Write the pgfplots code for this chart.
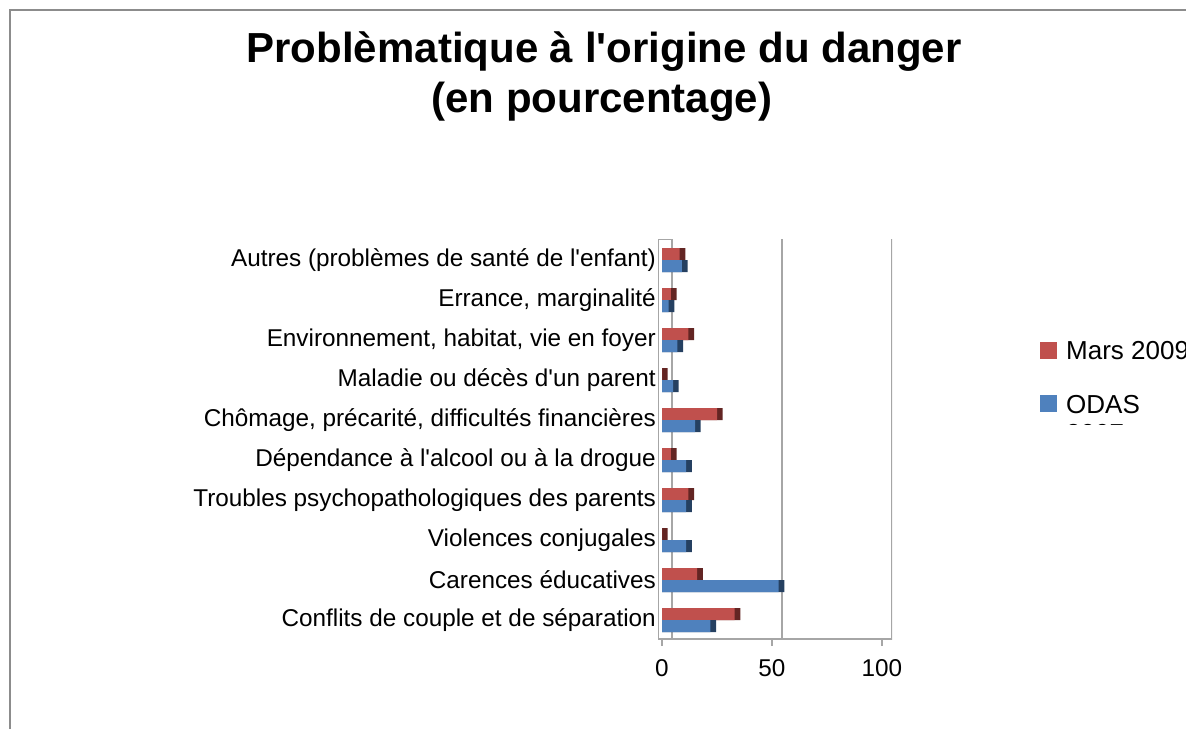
\documentclass[border=0pt]{standalone}
\usepackage{pgfplots}
\pgfplotsset{compat=1.18}
\usepackage{fontspec}
\setmainfont{Liberation Sans}
\definecolor{redA}{HTML}{C0504D}
\definecolor{redD}{HTML}{632523}
\definecolor{blueA}{HTML}{4F81BD}
\definecolor{blueD}{HTML}{254061}
\definecolor{gridc}{HTML}{A6A6A6}
\definecolor{framec}{HTML}{8C8C8C}
\newcommand\q{\textquotesingle}
\begin{document}
\begin{tikzpicture}[x=1pt,y=1pt]
\path[use as bounding box] (0,0) rectangle (1186,729);
\begin{scope}
\clip (0,0) -- (1000,0) -- (1000,304) -- (1186,304) -- (1186,729) -- (0,729) -- cycle;
\draw[framec, line width=1.5pt] (10,0) -- (10,719) -- (1186,719);
\node[font=\fontsize{42}{48}\selectfont\bfseries, anchor=base] at (604,666) {Problèmatique à l\q origine du danger};
\node[font=\fontsize{42}{48}\selectfont\bfseries, anchor=base] at (602,616) {(en pourcentage)};
\begin{axis}[
  at={(658pt,90pt)}, anchor=south west,
  scale only axis, width=234pt, height=400pt,
  xmin=-1.82, xmax=104.55, ymin=-0.475, ymax=9.525,
  xbar, bar width=12pt,
  axis line style={draw=none},
  ytick={0,1,2,3,4,5,6,7,8,9},
  yticklabels={
    Conflits de couple et de séparation,
    Carences éducatives,
    Violences conjugales,
    Troubles psychopathologiques des parents,
    Dépendance à l\q alcool ou à la drogue,
    {Chômage, précarité, difficultés financières},
    Maladie ou décès d\q un parent,
    {Environnement, habitat, vie en foyer},
    {Errance, marginalité},
    Autres (problèmes de santé de l\q enfant)},
  y tick label style={font=\fontsize{24.3}{28}\selectfont, inner sep=0pt, xshift=5pt},
  ytick style={draw=none},
  xtick={0,50,100},
  xtick pos=bottom, tick align=outside, major tick length=7pt,
  xtick style={gridc, line width=1.5pt},
  x tick label style={font=\fontsize{24.3}{28}\selectfont, yshift=-10pt},
  /pgf/number format/assume math mode=true,
  extra x ticks={4.55,54.55}, extra x tick labels={},
  extra x tick style={grid=major, major tick length=0pt},
  grid style={gridc, line width=1.5pt},
  legend style={draw=none, fill=none, at={(1.6325,0.75)}, anchor=north west,
    font=\fontsize{26}{29}\selectfont, row sep=28pt, column sep=7pt, inner sep=0pt},
  legend cell align=left,
  legend image code/.code={\fill[#1] (4pt,-8pt) rectangle (21pt,9pt);},
]
\addplot[fill=redD, draw=none, bar shift=6pt, forget plot] coordinates {
 (35.6,0) (18.6,1) (2.6,2) (14.6,3) (6.6,4) (27.6,5) (2.6,6) (14.6,7) (6.6,8) (10.6,9)};
\addplot[fill=redA, draw=none, bar shift=6pt] coordinates {
 (33,0) (16,1) (0,2) (12,3) (4,4) (25,5) (0,6) (12,7) (4,8) (8,9)};
\addplot[fill=blueD, draw=none, bar shift=-6pt, forget plot] coordinates {
 (24.6,0) (55.6,1) (13.6,2) (13.6,3) (13.6,4) (17.6,5) (7.6,6) (9.6,7) (5.6,8) (11.6,9)};
\addplot[fill=blueA, draw=none, bar shift=-6pt] coordinates {
 (22,0) (53,1) (11,2) (11,3) (11,4) (15,5) (5,6) (7,7) (3,8) (9,9)};
\legend{Mars 2009, {\begin{tabular}[t]{@{}l@{}}ODAS\\2007\end{tabular}}}
\draw[gridc, line width=1.5pt] (axis cs:4.55,9.525) -- (rel axis cs:0,1) -- ([yshift=-6pt]rel axis cs:0,0);
\draw[gridc, line width=1.5pt] (rel axis cs:0,0) -- (rel axis cs:1,0) -- (rel axis cs:1,1);
\end{axis}
\end{scope}
\end{tikzpicture}
\end{document}
